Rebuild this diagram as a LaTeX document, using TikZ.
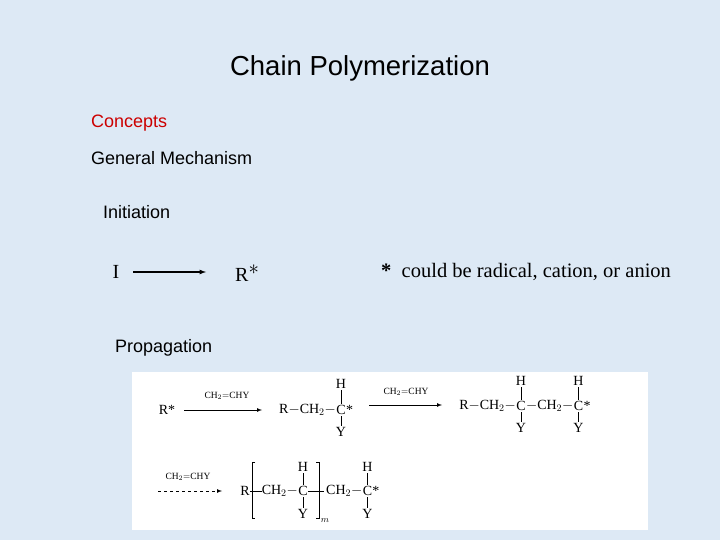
\documentclass[tikz,border=0pt]{standalone}
\usepackage{fontspec}
\setmainfont{Liberation Serif}
\newfontfamily\sansf{Liberation Sans}
\begin{document}
\begin{tikzpicture}[x=1pt,y=-1pt,
  sl/.style={font=\sansf\fontsize{18}{20}\selectfont,anchor=west,inner sep=0},
  ch/.style={font=\fontsize{14}{15}\selectfont,inner sep=0},
  lab/.style={font=\fontsize{9.5}{10}\selectfont,inner sep=0},
  bd/.style={line width=0.7pt,shorten <=1.5pt,shorten >=1.5pt},
  ar/.style={-latex,line width=0.7pt}]
\fill[fill={rgb,255:red,221;green,233;blue,245}] (0,0) rectangle (720,540);
\useasboundingbox (0,0) rectangle (720,540);
\node[font=\sansf\fontsize{27.5}{30}\selectfont] (title) at (360,68) {Chain Polymerization};
\node[sl,text={rgb,255:red,204;green,0;blue,0}] (conc) at (91,123) {Concepts};
\node[sl] (gm) at (91,158) {General Mechanism};
\node[sl] (init) at (103,212) {Initiation};
\node[font=\fontsize{20}{22}\selectfont] (I) at (116,272) {I};
\node[font=\fontsize{20}{22}\selectfont,anchor=west,inner sep=0] (R) at (235,273) {R$^{\textstyle *}$};
\coordinate (a1) at (133,272);
\draw[ar,line width=1.2pt] (a1) -- (206,272);
\node[font=\fontsize{20.5}{22}\selectfont,anchor=west,inner sep=0] (note) at (381,272) {\textbf{*}\enspace could be radical, cation, or anion};
\node[sl] (prop) at (115,348) {Propagation};
\fill[white] (132,372) rectangle (648,530);
% row 1
\node[ch] (r1) at (167,410) {R*};
\coordinate (b1) at (184,410); \coordinate (e1) at (262,410);
\draw[ar] (b1) -- (e1);
\node[lab] (l1) at (227,396) {CH$_2$$=$CHY};
\node[ch] (c1) at (341,410) {C};
\node[ch,anchor=west] at (c1.east) {*};
\node[ch,anchor=east] (c1l) at (c1.west) {R$-$CH$_2-$};
\node[ch] (h1) at (341,384) {H};
\node[ch] (y1) at (341,432) {Y};
\draw[bd] (h1.south) -- (c1.north); \draw[bd] (c1.south) -- (y1.north);
\coordinate (b2) at (369,405); \coordinate (e2) at (442,405);
\draw[ar] (b2) -- (e2);
\node[lab] (l2) at (406,392) {CH$_2$$=$CHY};
\node[ch] (c2) at (521,406) {C};
\node[ch,anchor=east] at (c2.west) {R$-$CH$_2-$};
\node[ch,anchor=west] (m2) at (c2.east) {$-$CH$_2-$};
\node[ch,anchor=west] (c3) at (m2.east) {C};
\node[ch,anchor=west] at (c3.east) {*};
\node[ch] (h2) at (c2 |- 0,381) {H};
\node[ch] (y2) at (c2 |- 0,428) {Y};
\node[ch] (h3) at (c3 |- 0,381) {H};
\node[ch] (y3) at (c3 |- 0,428) {Y};
\draw[bd] (h2.south) -- (c2.north); \draw[bd] (c2.south) -- (y2.north);
\draw[bd] (h3.south) -- (c3.north); \draw[bd] (c3.south) -- (y3.north);
% row 2
\coordinate (b3) at (158,491); \coordinate (e3) at (222,491);
\draw[ar,dashed] (b3) -- (e3);
\node[lab] (l3) at (188,477) {CH$_2$$=$CHY};
\node[ch] (c4) at (303,491) {C};
\node[ch,anchor=east] (m4) at (c4.west) {CH$_2-$};
\node[ch,anchor=east] (r2) at (250,491) {R};
\node[ch] (h4) at (303,467) {H};
\node[ch] (y4) at (303,514) {Y};
\draw[bd] (h4.south) -- (c4.north); \draw[bd] (c4.south) -- (y4.north);
\draw[line width=0.7pt] (255,462) -- (252,462) -- (252,518) -- (255,518);
\draw[line width=0.7pt] (r2.east) -- (m4.west);
\draw[line width=0.7pt] (316,462) -- (319,462) -- (319,518) -- (316,518);
\draw[line width=0.7pt] (c4.east) -- (324,491);
\node[font=\itshape\fontsize{9}{10}\selectfont] (m) at (325,521) {$m$};
\node[ch,anchor=west] (m5) at (326,491) {CH$_2-$};
\node[ch,anchor=west] (c5) at (m5.east) {C};
\node[ch,anchor=west] at (c5.east) {*};
\node[ch] (h5) at (c5 |- 0,467) {H};
\node[ch] (y5) at (c5 |- 0,514) {Y};
\draw[bd] (h5.south) -- (c5.north); \draw[bd] (c5.south) -- (y5.north);
\end{tikzpicture}
\end{document}
